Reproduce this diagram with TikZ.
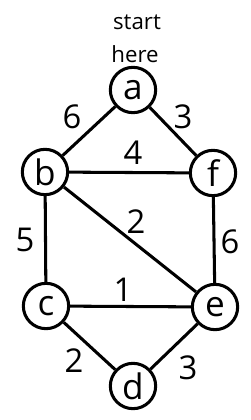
\documentclass[tikz,border=0pt]{standalone}
\usepackage{fontspec}
\setmainfont{Open Sans}
\usetikzlibrary{positioning}

\begin{document}
\begin{tikzpicture}[x=0.03cm, y=-0.03cm,
    vertex/.style={circle, draw=black, line width=2.6pt, minimum size=1.36cm,
                   inner sep=0pt, font=\fontsize{30}{32}\selectfont},
    weight/.style={font=\fontsize{28}{30}\selectfont, inner sep=0pt},
    note/.style={font=\fontsize{19}{21}\selectfont, inner sep=0pt},
    edge/.style={line width=2.6pt}
]
\useasboundingbox (0,0) rectangle (250,420);
% --- vertices ---
\node (a) [vertex] at (133,90)  {a};
\node (b) [vertex] at (45,172)  {b};
\node (f) [vertex] at (213,173) {f};
\node (c) [vertex] at (46,306)  {c};
\node (e) [vertex] at (215,307) {e};
\node (d) [vertex] at (133,386) {d};

% --- edges ---
\draw [edge] (a) -- (b);
\draw [edge] (a) -- (f);
\draw [edge] (b) -- (f);
\draw [edge] (b) -- (c);
\draw [edge] (b) -- (e);
\draw [edge] (f) -- (e);
\draw [edge] (c) -- (e);
\draw [edge] (c) -- (d);
\draw [edge] (d) -- (e);

% --- weights ---
\node (wab) [weight] at (72,117)  {6};
\node (waf) [weight] at (183,117) {3};
\node (wbf) [weight] at (133,153) {4};
\node (wbc) [weight] at (25,240)  {5};
\node (wbe) [weight] at (136,222) {2};
\node (wfe) [weight] at (230,242) {6};
\node (wce) [weight] at (123,290) {1};
\node (wcd) [weight] at (74,361)  {2};
\node (wde) [weight] at (188,368) {3};

% --- start note ---
\node (start) [note] at (137,22) {start};
\node (here)  [note] at (135,54) {here};
\end{tikzpicture}
\end{document}
